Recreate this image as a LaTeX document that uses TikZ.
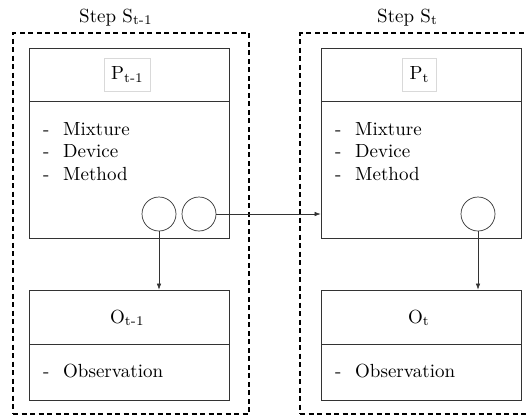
\documentclass[tikz,border=0pt]{standalone}
\usetikzlibrary{arrows.meta}
\newcommand{\bigtxt}[1]{\scalebox{1.9}{#1}}
\begin{document}
\begin{tikzpicture}[x=1pt,y=-1pt,
  frame/.style={draw=black,line width=1.6pt,dash pattern=on 5pt off 3.5pt,minimum width=#1,minimum height=381pt,inner sep=0pt},
  part/.style={draw=black!80,line width=0.8pt,minimum width=200pt,minimum height=#1,inner sep=0pt},
  circ/.style={draw=black!80,line width=0.7pt,circle,minimum size=34pt,inner sep=0pt},
  lbl/.style={draw=black!15,line width=0.6pt,inner xsep=7pt,inner ysep=0pt,minimum height=33pt},
  txt/.style={anchor=base west,inner sep=0pt},
  arr/.style={draw=black!80,line width=0.6pt,-{Latex[length=6pt,width=4.5pt]}}]
\useasboundingbox (0,0) rectangle (527,416);
\begin{scope}
\clip (0,0) rectangle (527,416);
% frames
\node[frame=236pt] (F1) at (131,223.5) {};
\node[frame=240pt] (F2) at (420,223.5) {};
\end{scope}
\node[txt] (S1) at (79,22) {\bigtxt{Step S\textsubscript{t-1}}};
\node[txt] (S2) at (377,22) {\bigtxt{Step S\textsubscript{t}}};
% P boxes
\node[part=53pt] (P1h) at (129,74.5) {};
\node[part=137pt] (P1b) at (129,169.5) {};
\node[part=53pt] (P2h) at (421,74.5) {};
\node[part=137pt] (P2b) at (421,169.5) {};
\node[lbl] (L1) at (127.5,74.5) {\bigtxt{P\textsubscript{t-1}}};
\node[lbl] (L2) at (419.5,74.5) {\bigtxt{P\textsubscript{t}}};
% items
\foreach \X/\N in {43/a,335/b}{
  \node[txt] (d1\N) at (\X,135) {\bigtxt{-}};
  \node[txt] (d2\N) at (\X,157.5) {\bigtxt{-}};
  \node[txt] (d3\N) at (\X,180) {\bigtxt{-}};
  \node[txt] (m1\N) at (\X+20,135) {\bigtxt{Mixture}};
  \node[txt] (m2\N) at (\X+20,157.5) {\bigtxt{Device}};
  \node[txt] (m3\N) at (\X+20,180) {\bigtxt{Method}};
}
% O boxes
\node[part=54pt] (O1h) at (129,317) {};
\node[part=56pt] (O1b) at (129,372) {};
\node[part=54pt] (O2h) at (421,317) {};
\node[part=56pt] (O2b) at (421,372) {};
\node[txt] (Ot1) at (110,323) {\bigtxt{O\textsubscript{t-1}}};
\node[txt] (Ot2) at (408,323) {\bigtxt{O\textsubscript{t}}};
\node[txt] (ob1) at (43,377) {\bigtxt{-}};
\node[txt] (obs1) at (63,377) {\bigtxt{Observation}};
\node[txt] (ob2) at (335,377) {\bigtxt{-}};
\node[txt] (obs2) at (355,377) {\bigtxt{Observation}};
% circles
\node[circ] (c1) at (159,214) {};
\node[circ] (c2) at (199,214) {};
\node[circ] (c3) at (478,214) {};
% arrows
\draw[arr] (c2.east) -- (c2.east -| P2b.west);
\draw[arr] (c1.south) -- (c1.south |- O1h.north);
\draw[arr] (c3.south) -- (c3.south |- O2h.north);
\end{tikzpicture}
\end{document}
